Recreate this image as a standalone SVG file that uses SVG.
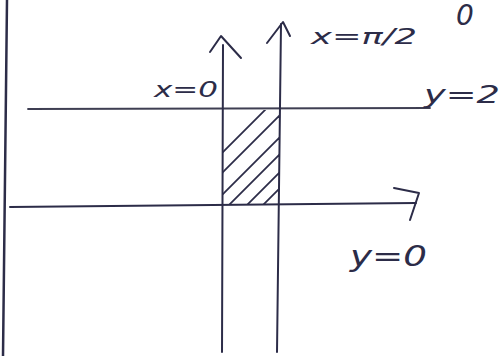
<svg xmlns="http://www.w3.org/2000/svg" width="502" height="356" viewBox="0 0 502 356">
<defs>
<style>
.ink{stroke:#2c2c48;fill:none;stroke-linecap:round;stroke-linejoin:round}
.thin{stroke:#3e3e52;stroke-width:1.8}
.axis{stroke-width:2}
.hatch{stroke:#2c2c48;stroke-width:1.8}
.lbl{font-family:"DejaVu Sans","Liberation Sans",sans-serif;font-style:oblique;fill:#2c2c48}
</style>
<clipPath id="reg"><rect x="223" y="110" width="56" height="94"/></clipPath>
</defs>
<rect width="502" height="356" fill="#ffffff"/>
<line class="ink" x1="7" y1="0" x2="3" y2="356" stroke-width="2.5"/>
<g id="region">
<g clip-path="url(#reg)">
<line class="hatch" x1="215" y1="160" x2="268" y2="107"/>
<line class="hatch" x1="215" y1="180" x2="288" y2="107"/>
<line class="hatch" x1="222" y1="195" x2="300" y2="117"/>
<line class="hatch" x1="228" y1="206" x2="300" y2="134"/>
<line class="hatch" x1="246" y1="206" x2="300" y2="152"/>
<line class="hatch" x1="262" y1="206" x2="300" y2="168"/>
</g>
</g>
<g id="connectors">
<line id="line-y2" class="ink thin" x1="28" y1="109" x2="430" y2="108"/>
<g id="axis-x">
<line class="ink axis" x1="10" y1="207" x2="416" y2="203"/>
<polyline class="ink axis" points="394,188 419,193 410,220"/>
</g>
<g id="line-x0">
<line class="ink axis" x1="223" y1="45" x2="222" y2="352"/>
<polyline class="ink axis" points="210,52 221,36 241,58"/>
</g>
<g id="line-xpi2">
<line class="ink axis" x1="281" y1="24" x2="277" y2="352"/>
<polyline class="ink axis" points="267,43 283,22 290,36"/>
</g>
</g>
<g id="labels">
<text class="lbl" x="154" y="97" font-size="22" textLength="64" lengthAdjust="spacingAndGlyphs">x=0</text>
<text class="lbl" x="311" y="44" font-size="22" textLength="106" lengthAdjust="spacingAndGlyphs">x=π/2</text>
<text class="lbl" x="456" y="25" font-size="28">0</text>
<text class="lbl" x="424" y="103" font-size="24" textLength="76" lengthAdjust="spacingAndGlyphs">y=2</text>
<text class="lbl" x="350" y="266" font-size="28" textLength="77" lengthAdjust="spacingAndGlyphs">y=0</text>
</g>
</svg>
